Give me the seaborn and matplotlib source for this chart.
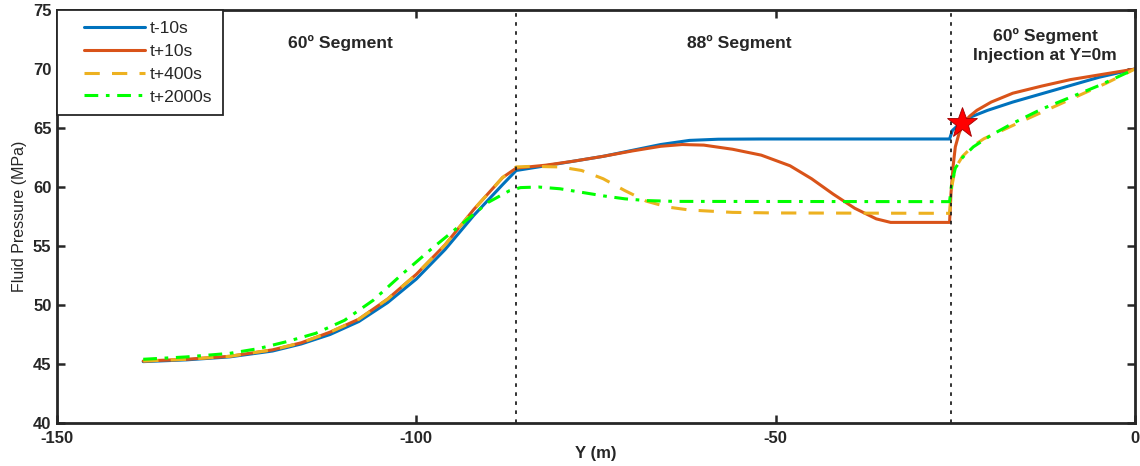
import matplotlib
matplotlib.use("Agg")
import matplotlib.pyplot as plt
from matplotlib.lines import Line2D
from matplotlib.legend_handler import HandlerLine2D
import seaborn as sns

# values (Y in m, pressure in MPa)
x_m10 = [-138, -132, -126, -120, -116, -112, -108, -104, -100, -96, -92, -88, -86.1,
         -82, -78, -74, -70, -66, -62, -58, -52, -25.8, -25.4, -24.5, -23, -20.5,
         -17, -13, -9, -5, 0]
p_m10 = [45.2, 45.35, 45.6, 46.1, 46.7, 47.5, 48.6, 50.2, 52.2, 54.7, 57.6, 60.2, 61.4,
         61.8, 62.2, 62.6, 63.1, 63.6, 63.95, 64.05, 64.07, 64.07, 64.8, 65.3, 65.9, 66.5,
         67.2, 67.9, 68.6, 69.3, 70.0]

x_p10 = [-138, -132, -126, -120, -116, -112, -108, -104, -100, -96, -92, -88, -86.1,
         -82, -78, -74, -70, -66, -63, -60, -56, -52, -48, -45, -42, -39, -36, -34,
         -25.8, -25.6, -25.3, -25.0, -24.5, -24.0, -23, -22, -20, -17, -13, -9, -5, 0]
p_p10 = [45.25, 45.4, 45.65, 46.2, 46.8, 47.7, 48.8, 50.5, 52.6, 55.1, 58.1, 60.8, 61.6,
         61.85, 62.2, 62.6, 63.05, 63.45, 63.6, 63.55, 63.2, 62.7, 61.8, 60.7, 59.4, 58.2,
         57.3, 57.0, 57.0, 59.5, 61.8, 63.4, 64.5, 65.3, 66.0, 66.5, 67.2, 67.95, 68.55,
         69.1, 69.5, 70.0]

x_p400 = [-138, -132, -126, -120, -116, -112, -108, -104, -100, -96, -92, -88, -86.1,
          -84, -80, -77, -74, -71, -68, -65, -62, -56, -50, -25.8, -25.5, -25.0, -24,
          -22.5, -21, -19, -16, -12, -8, -4, 0]
p_p400 = [45.25, 45.4, 45.65, 46.2, 46.8, 47.7, 48.8, 50.5, 52.6, 55.1, 58.1, 60.8, 61.7,
          61.75, 61.7, 61.4, 60.7, 59.7, 58.8, 58.3, 58.05, 57.85, 57.8, 57.77, 60.0, 61.6,
          62.6, 63.5, 64.1, 64.65, 65.5, 66.6, 67.7, 68.8, 70.0]

x_p2000 = [-138, -132, -126, -122, -118, -114, -110, -106, -102, -98, -94, -90, -87,
           -85.5, -83, -80, -77, -74, -71, -68, -64, -25.8, -25.5, -25.0, -24, -22.5,
           -20, -17, -13, -9, -5, 0]
p_p2000 = [45.4, 45.6, 45.9, 46.3, 46.9, 47.6, 48.7, 50.4, 52.6, 54.7, 56.7, 58.7, 59.7,
           59.95, 60.0, 59.85, 59.55, 59.25, 59.0, 58.85, 58.78, 58.76, 60.3, 61.6, 62.5,
           63.4, 64.4, 65.4, 66.6, 67.6, 68.6, 70.0]

segment_bounds = [-86.1, -25.6]
star_x, star_y = -24.1, 65.4

sns.set_style("ticks")
plt.rcParams["font.family"] = ["Liberation Sans", "DejaVu Sans"]
plt.rcParams["axes.unicode_minus"] = False

fig = plt.figure(figsize=(11.4, 4.66), dpi=100)
ax = fig.add_axes([0.05, 0.0923, 0.9456, 0.8862])

# the four pressure profiles
sns.lineplot(x=x_m10, y=p_m10, ax=ax, color="#0072BD", linewidth=2.2,
             label="t-10s", estimator=None, sort=False)
sns.lineplot(x=x_p10, y=p_p10, ax=ax, color="#D95319", linewidth=2.2,
             label="t+10s", estimator=None, sort=False)
sns.lineplot(x=x_p400, y=p_p400, ax=ax, color="#EDB120", linewidth=2.2,
             linestyle=(0, (5, 4)), label="t+400s", estimator=None, sort=False)
sns.lineplot(x=x_p2000, y=p_p2000, ax=ax, color="#00FF00", linewidth=2.2,
             linestyle=(0, (4.5, 2.5, 1.2, 2.5)), label="t+2000s",
             estimator=None, sort=False)

# segment boundaries and injection point
for xb in segment_bounds:
    ax.axvline(xb, color="#222222", linestyle=(0, (2, 3)), linewidth=1.3)
ax.plot(star_x, star_y, marker="*", markersize=23, color="red",
        markeredgecolor="#a00000", markeredgewidth=0.6, zorder=5)

# segment labels
ax.text(-110.6, 72.2, "60º Segment", ha="center", va="center",
        fontsize=12.6, fontweight="bold")
ax.text(-55, 72.2, "88º Segment", ha="center", va="center",
        fontsize=12.6, fontweight="bold")
ax.text(-12.5, 72.0, "60º Segment\nInjection at Y=0m", ha="center", va="center",
        fontsize=12.6, fontweight="bold", linespacing=1.3)

ax.set_xlim(-150, 0)
ax.set_ylim(40, 75)
ax.set_xticks([-150, -100, -50, 0])
ax.set_yticks(range(40, 76, 5))
ax.tick_params(direction="in", length=6, width=1.8, top=True, right=True,
               labelsize=12)
ax.tick_params(axis="x", pad=6)
ax.tick_params(axis="y", pad=4)
for lbl in ax.get_xticklabels() + ax.get_yticklabels():
    lbl.set_fontweight("bold")
for sp in ax.spines.values():
    sp.set_visible(True)
    sp.set_linewidth(2)
    sp.set_color("#262626")

ax.set_xlabel("Y (m)", fontsize=12, fontweight="bold", labelpad=0)
ax.set_ylabel("Fluid Pressure (MPa)", fontsize=11.5, labelpad=4)

leg = ax.legend(loc="upper left", fontsize=12.6, frameon=True, fancybox=False,
                edgecolor="#262626", borderaxespad=0, handlelength=4.4,
                labelspacing=0.44, borderpad=0.6, handletextpad=0.3,
                handler_map={Line2D: HandlerLine2D(xpad=0.95)})
leg.get_frame().set_linewidth(1.3)
leg.get_frame().set_alpha(1)

fig.savefig("out.png", dpi=100)
